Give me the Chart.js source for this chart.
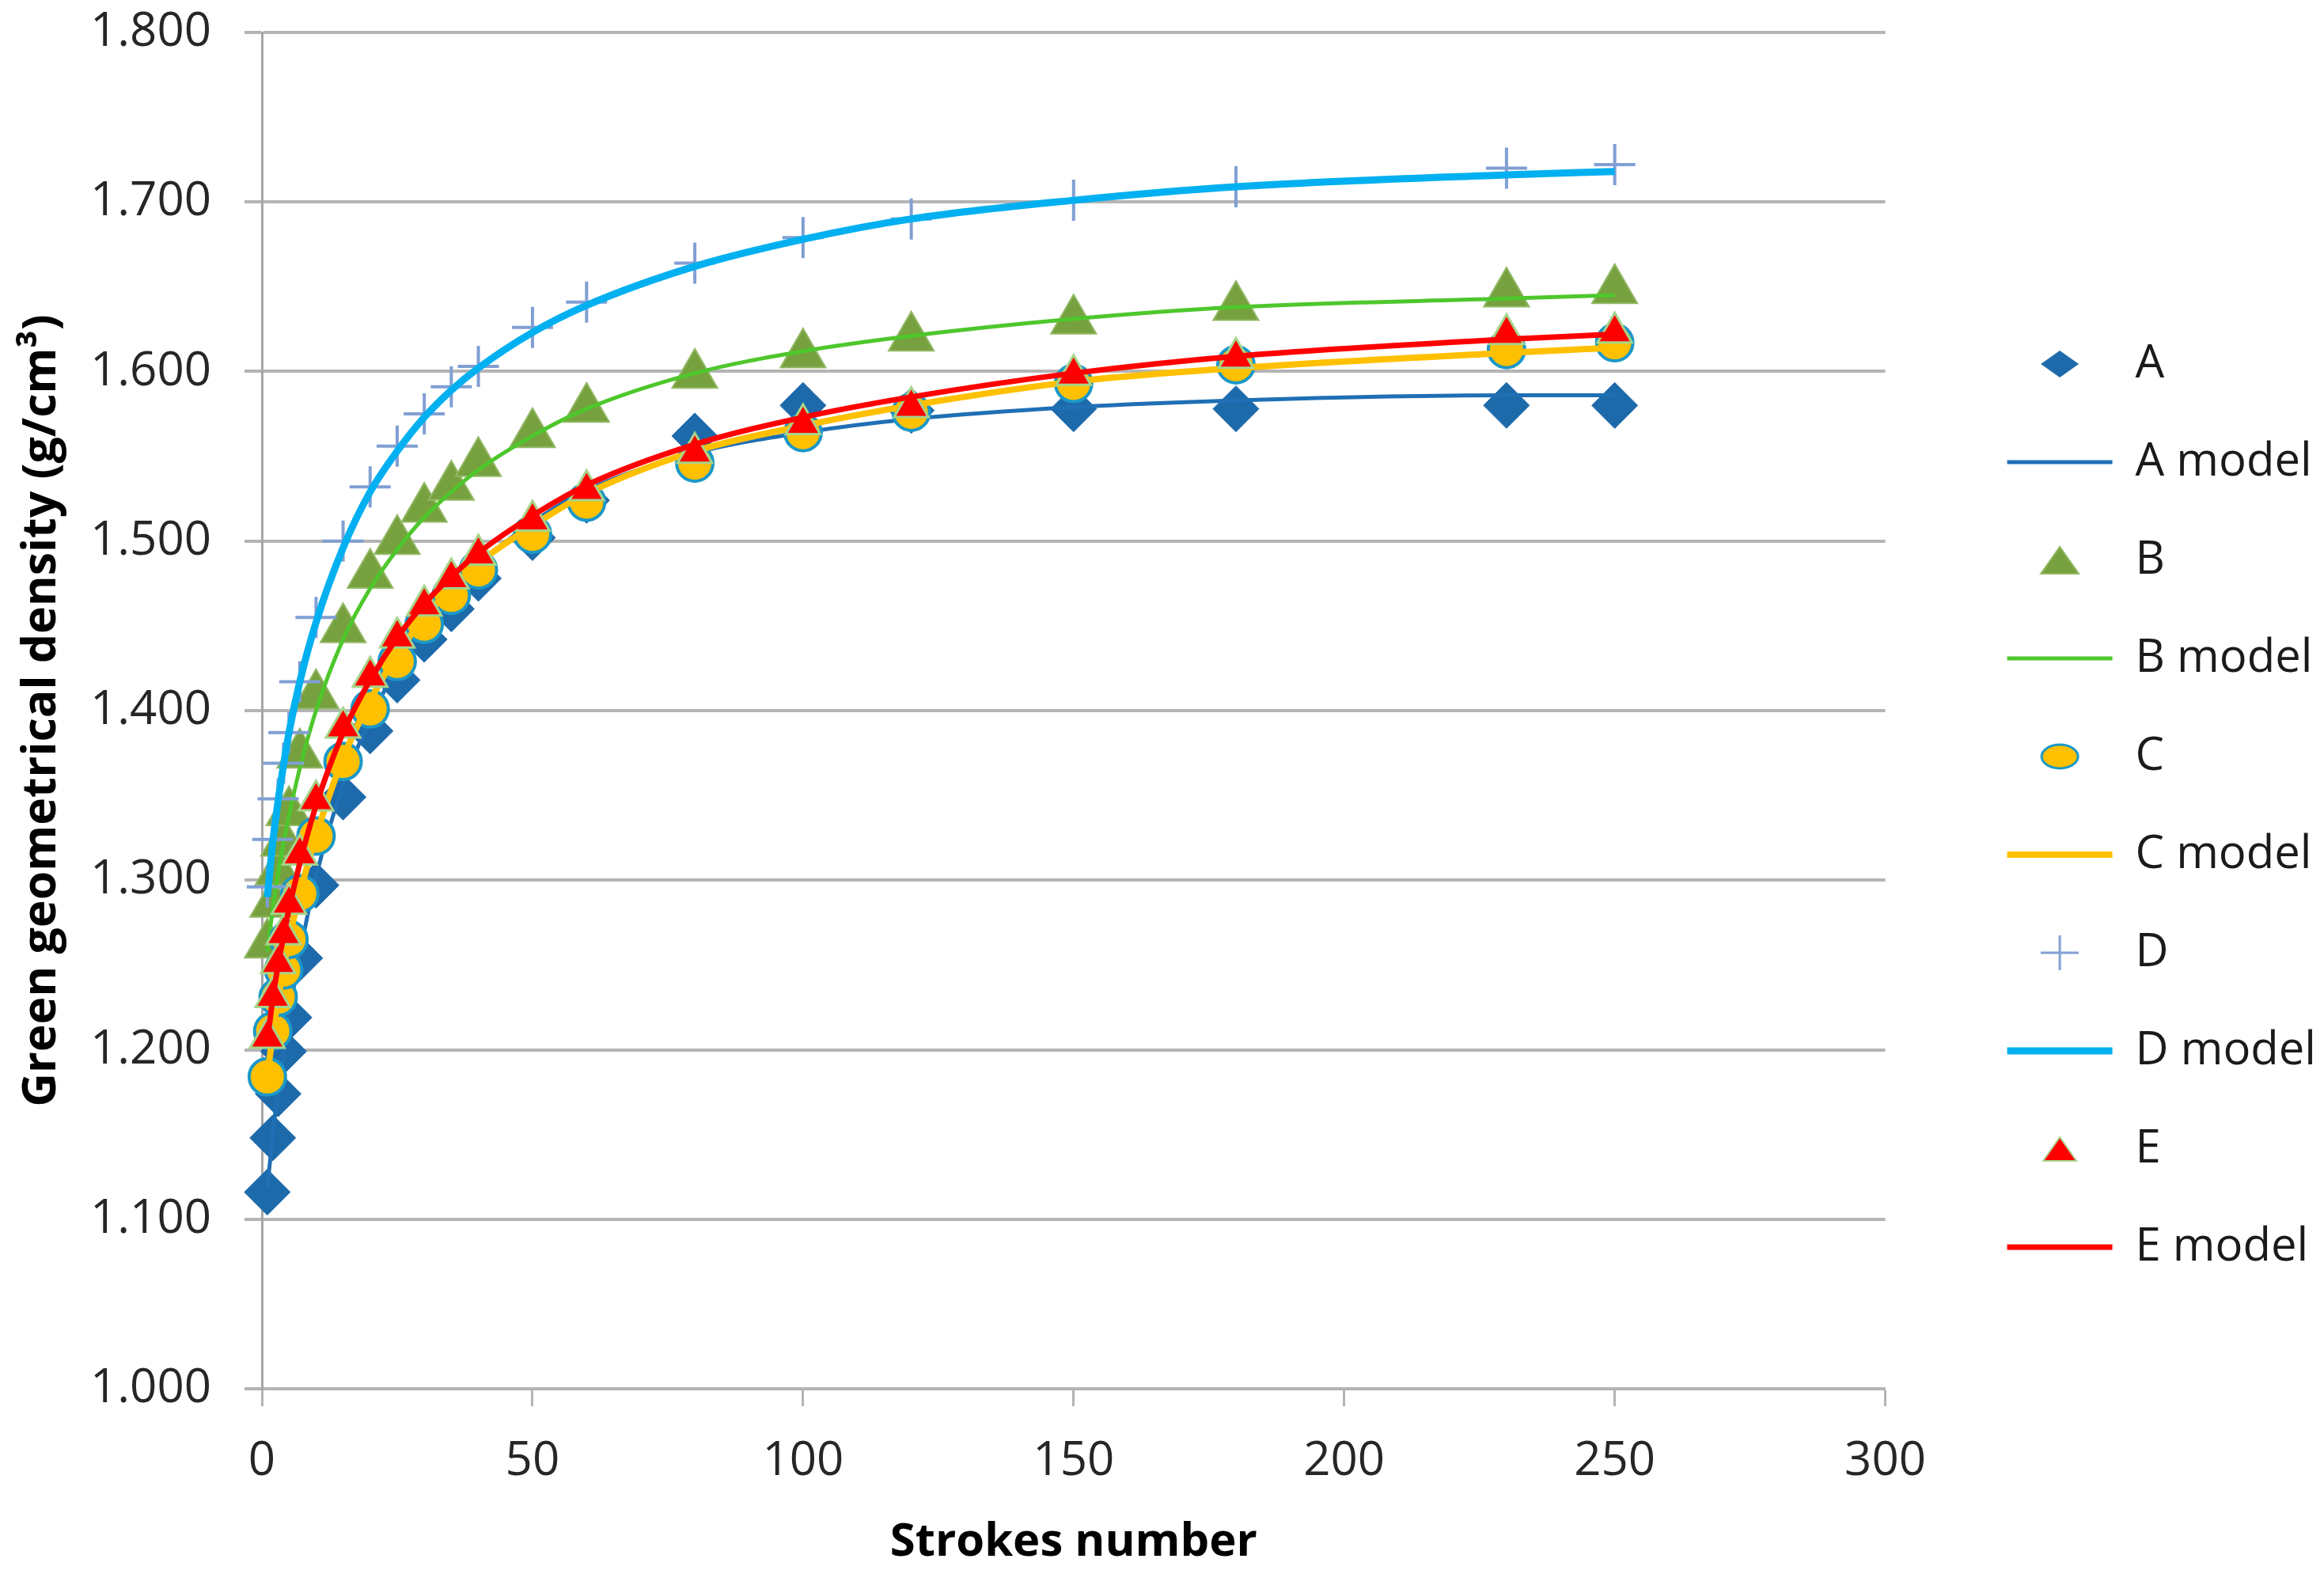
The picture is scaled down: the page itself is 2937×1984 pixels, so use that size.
<!DOCTYPE html>
<html>
<head>
<meta charset="utf-8">
<script src="https://cdn.jsdelivr.net/npm/chart.js@4/dist/chart.umd.min.js"></script>
<style>
  html, body { margin: 0; padding: 0; background: #fff; }
  #wrap { width: 2937px; height: 1984px; }
</style>
</head>
<body>
<div id="wrap"><canvas id="grafico"></canvas></div>
<script>
// Strokes number (x) shared by every series
const strokes = [1, 2, 3, 4, 5, 7, 10, 15, 20, 25, 30, 35, 40, 50, 60, 80, 100, 120, 150, 180, 230, 250];

// measured densities (g/cm3)
const seriesA = [1.116, 1.148, 1.174, 1.199, 1.219, 1.254, 1.297, 1.349, 1.388, 1.418, 1.442, 1.460, 1.478, 1.502, 1.524, 1.562, 1.580, 1.577, 1.578, 1.578, 1.580, 1.580];
const seriesB = [1.262, 1.286, 1.305, 1.322, 1.340, 1.374, 1.409, 1.448, 1.480, 1.500, 1.519, 1.532, 1.546, 1.563, 1.578, 1.598, 1.610, 1.620, 1.630, 1.638, 1.646, 1.648];
const seriesC = [1.184, 1.211, 1.231, 1.247, 1.265, 1.292, 1.326, 1.370, 1.401, 1.429, 1.451, 1.468, 1.483, 1.504, 1.523, 1.546, 1.564, 1.576, 1.593, 1.604, 1.613, 1.617];
const seriesD = [1.296, 1.324, 1.348, 1.369, 1.387, 1.417, 1.455, 1.500, 1.532, 1.556, 1.575, 1.591, 1.603, 1.626, 1.641, 1.664, 1.679, 1.690, 1.701, 1.709, 1.720, 1.722];
const seriesE = [1.207, 1.231, 1.251, 1.268, 1.286, 1.315, 1.347, 1.390, 1.420, 1.443, 1.462, 1.478, 1.492, 1.512, 1.530, 1.552, 1.569, 1.579, 1.598, 1.608, 1.622, 1.623];

// model curves read at the same strokes
const modelA = [1.118, 1.150, 1.176, 1.199, 1.220, 1.256, 1.302, 1.356, 1.395, 1.425, 1.449, 1.469, 1.486, 1.511, 1.530, 1.552, 1.564, 1.572, 1.579, 1.583, 1.586, 1.586];
const modelB = [1.258, 1.283, 1.304, 1.322, 1.338, 1.366, 1.400, 1.442, 1.472, 1.495, 1.514, 1.529, 1.542, 1.562, 1.578, 1.599, 1.612, 1.621, 1.631, 1.638, 1.643, 1.645];
const modelC = [1.185, 1.209, 1.230, 1.248, 1.265, 1.292, 1.326, 1.372, 1.406, 1.433, 1.455, 1.472, 1.487, 1.509, 1.528, 1.553, 1.568, 1.580, 1.594, 1.602, 1.611, 1.614];
const modelD = [1.290, 1.322, 1.347, 1.368, 1.387, 1.417, 1.452, 1.496, 1.529, 1.553, 1.573, 1.589, 1.602, 1.623, 1.639, 1.662, 1.678, 1.690, 1.701, 1.709, 1.716, 1.718];
const modelE = [1.205, 1.230, 1.250, 1.267, 1.283, 1.310, 1.344, 1.387, 1.418, 1.443, 1.463, 1.479, 1.493, 1.515, 1.533, 1.557, 1.573, 1.585, 1.599, 1.609, 1.619, 1.622];

const seriesLabels = ['A', 'A model', 'B', 'B model', 'C', 'C model', 'D', 'D model', 'E', 'E model'];

const xTicks = { min: 0, max: 300, step: 50 };
const yTicks = { min: 1.0, max: 1.8, step: 0.1 };

Chart.defaults.font.family = "'Open Sans', 'DejaVu Sans', sans-serif";

const pts = arr => strokes.map((x, i) => ({ x: x, y: arr[i] }));

// small icons for the marker entries of the legend
function icone(tipo, w, h, fill, stroke, lw) {
  const c = document.createElement('canvas');
  c.width = w; c.height = h;
  const g = c.getContext('2d');
  g.fillStyle = fill; g.strokeStyle = stroke; g.lineWidth = lw;
  g.beginPath();
  if (tipo === 'diamond') {
    g.moveTo(0, h / 2); g.lineTo(w / 2, 0); g.lineTo(w, h / 2); g.lineTo(w / 2, h); g.closePath();
    g.fill();
  } else if (tipo === 'triangle') {
    g.moveTo(lw, h - lw); g.lineTo(w / 2, lw); g.lineTo(w - lw, h - lw); g.closePath();
    g.fill(); g.stroke();
  } else if (tipo === 'ellipse') {
    g.ellipse(w / 2, h / 2, w / 2 - lw, h / 2 - lw, 0, 0, Math.PI * 2);
    g.fill(); g.stroke();
  } else if (tipo === 'plus') {
    g.moveTo(0, h / 2); g.lineTo(w, h / 2); g.moveTo(w / 2, 0); g.lineTo(w / 2, h);
    g.stroke();
  }
  return c;
}

const marcador = (label, data, style, radius, fill, border, bw) => ({
  label: label, data: pts(data), showLine: false, pointStyle: style,
  pointRadius: radius, pointHoverRadius: radius, backgroundColor: fill,
  borderColor: border, pointBorderWidth: bw, borderWidth: bw, clip: false
});
const modelo = (label, data, color, width) => ({
  label: label, data: pts(data), showLine: true, pointRadius: 0,
  borderColor: color, backgroundColor: color, borderWidth: width,
  cubicInterpolationMode: 'monotone', fill: false
});

const datasets = [
  marcador(seriesLabels[0], seriesA, 'rectRot', 29, '#1d6aab', '#1d6aab', 1),
  modelo(seriesLabels[1], modelA, '#1f6fb5', 5),
  marcador(seriesLabels[2], seriesB, 'triangle', 33, '#77a13e', '#92b865', 2),
  modelo(seriesLabels[3], modelB, '#4ec72c', 5),
  marcador(seriesLabels[4], seriesC, 'circle', 23, '#ffc000', '#1b98c8', 4),
  modelo(seriesLabels[5], modelC, '#ffc000', 8),
  marcador(seriesLabels[6], seriesD, 'cross', 26, '#809fd3', '#809fd3', 4),
  modelo(seriesLabels[7], modelD, '#00b0f0', 9),
  marcador(seriesLabels[8], seriesE, 'triangle', 25, '#ff0000', '#a6d48a', 3),
  modelo(seriesLabels[9], modelE, '#ff0000', 7)
];
// later series drawn on top, as in the original
datasets.forEach((d, i) => { d.order = datasets.length - i; });

const legendIcons = [
  icone('diamond', 48, 34, '#1d6aab', '#1d6aab', 1), 'line',
  icone('triangle', 52, 38, '#77a13e', '#92b865', 2), 'line',
  icone('ellipse', 52, 36, '#ffc000', '#1b98c8', 3), 'line',
  icone('plus', 48, 44, '#809fd3', '#809fd3', 3), 'line',
  icone('triangle', 46, 34, '#ff0000', '#a6d48a', 2), 'line'
];

new Chart(document.getElementById('grafico'), {
  type: 'scatter',
  data: { datasets: datasets },
  options: {
    responsive: true,
    maintainAspectRatio: false,
    animation: false,
    layout: { padding: { top: 5, left: 0, right: 0, bottom: 0 } },
    plugins: {
      tooltip: { enabled: false },
      legend: {
        position: 'right',
        title: { display: true, text: '', font: { size: 20 }, padding: { top: 23, bottom: 0 } },
        labels: {
          usePointStyle: true,
          pointStyleWidth: 133,
          padding: 66,
          color: '#1a1a1a',
          font: { size: 58 },
          generateLabels: chart => chart.data.datasets.map((ds, i) => ({
            text: ds.label,
            datasetIndex: i,
            hidden: false,
            pointStyle: legendIcons[i],
            fillStyle: ds.borderColor,
            strokeStyle: ds.borderColor,
            lineWidth: ds.showLine ? ds.borderWidth : 0,
            lineCap: 'butt',
            fontColor: '#1a1a1a'
          }))
        }
      }
    },
    scales: {
      x: {
        type: 'linear',
        position: 'bottom',
        min: xTicks.min, max: xTicks.max,
        afterFit: s => { s.height = 229; },
        ticks: { stepSize: xTicks.step, padding: 34, color: '#262626', font: { size: 60 } },
        grid: { drawOnChartArea: false, drawTicks: true, tickLength: 22, tickColor: '#b4b4b4', tickWidth: 3 },
        border: { display: true, color: '#b4b4b4', width: 4 },
        title: { display: true, text: 'Strokes number', color: '#000', font: { size: 58, weight: 'bold' }, padding: { top: 0, bottom: 0 } }
      },
      y: {
        type: 'linear',
        position: 'left',
        min: yTicks.min, max: yTicks.max,
        afterFit: s => { s.width = 331; s.paddingTop = 41; s.paddingBottom = 0; },
        ticks: { stepSize: yTicks.step, padding: 42, color: '#262626', font: { size: 60 }, callback: v => v.toFixed(3) },
        grid: { color: '#b4b4b4', lineWidth: 4, drawTicks: true, tickLength: 22, tickColor: '#b4b4b4', tickWidth: 4 },
        border: { display: true, color: '#a6a6a6', width: 3 },
        title: { display: true, text: 'Green geometrical density (g/cm³)', color: '#000', font: { size: 59, weight: 'bold' }, padding: { top: 18, bottom: 0 } }
      },
      // empty spacer between the plot and the legend
      gap: {
        type: 'linear',
        position: 'right',
        afterFit: s => { s.width = 88; },
        ticks: { display: false },
        grid: { display: false, drawTicks: false },
        border: { display: false }
      }
    }
  }
});
</script>
</body>
</html>
